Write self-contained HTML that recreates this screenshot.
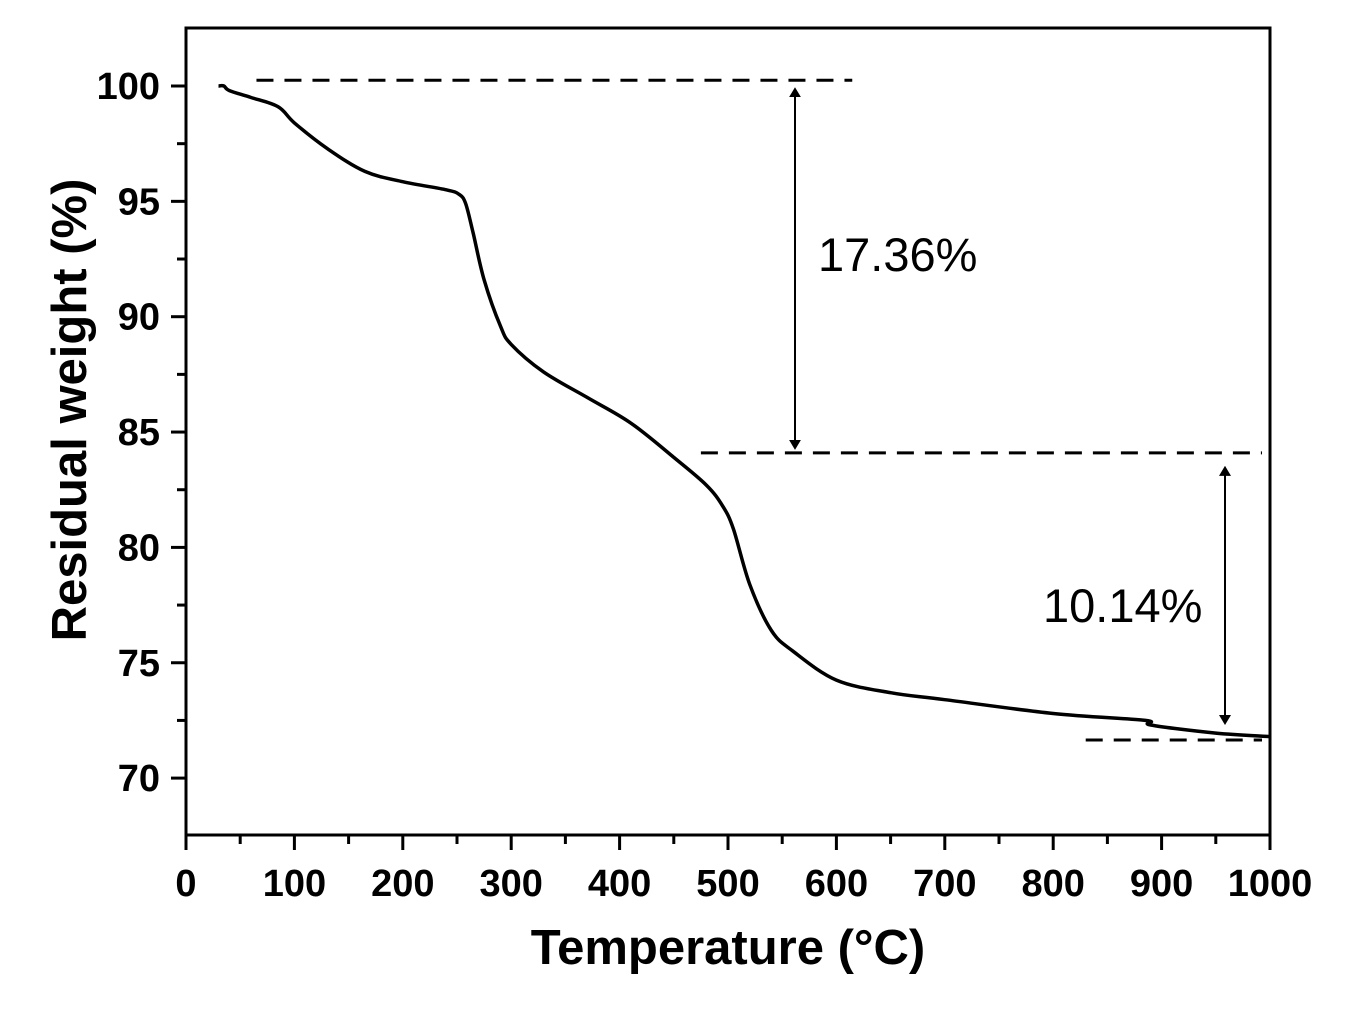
<!DOCTYPE html>
<html><head><meta charset="utf-8"><style>body{margin:0;background:#fff}svg{display:block}</style></head>
<body>
<svg id="c" width="1352" height="1009" xmlns="http://www.w3.org/2000/svg" font-family="Liberation Sans, sans-serif"></svg>
<script>
const temps=[30,35,40,60,85,100,130,165,200,240,252,258,265,275,290,300,330,370,410,450,480,495,505,520,540,560,600,650,700,800,885,890,950,1000];
const weights=[100,100,99.8,99.5,99.1,98.4,97.3,96.3,95.85,95.5,95.3,94.9,93.6,91.6,89.6,88.8,87.6,86.5,85.4,83.9,82.7,81.8,80.8,78.4,76.4,75.5,74.25,73.7,73.4,72.8,72.5,72.3,71.95,71.8];
const xTicks=[0,100,200,300,400,500,600,700,800,900,1000];
const yTicks=[70,75,80,85,90,95,100];
const refLevels=[100.25,84.1,71.65];
const labels=["17.36%","10.14%"];
const NS="http://www.w3.org/2000/svg";
const svg=document.getElementById('c');
const X=v=>186+v*1.084;
const Y=v=>86+(100-v)*23.07;
function el(t,a,p){const e=document.createElementNS(NS,t);for(const k in a)e.setAttribute(k,a[k]);(p||svg).appendChild(e);return e;}
const defs=el('defs',{});
const m=el('marker',{id:'ah',markerWidth:10,markerHeight:12,refX:5,refY:6,orient:'auto-start-reverse',markerUnits:'userSpaceOnUse'},defs);
el('path',{d:'M0,0 L10,6 L0,12 Z',fill:'#000'},m);
const frame=el('rect',{x:186,y:28,width:1084,height:807,fill:'none',stroke:'#000','stroke-width':3});

xTicks.forEach((t,i)=>{
 const l=el('line',{x1:X(t),x2:X(t),y1:835,y2:850,stroke:'#000','stroke-width':3});
 
 if(i<xTicks.length-1){const h=t+50;const ml=el('line',{x1:X(h),x2:X(h),y1:835,y2:844,stroke:'#000','stroke-width':3});}
 const tx=el('text',{x:X(t),y:896,'text-anchor':'middle','font-size':38,'font-weight':'bold'});tx.textContent=t;
 
});
yTicks.forEach((t,i)=>{
 const l=el('line',{x1:171,x2:186,y1:Y(t),y2:Y(t),stroke:'#000','stroke-width':3});
 
 const tx=el('text',{x:160,y:Y(t)+13,'text-anchor':'end','font-size':38,'font-weight':'bold'});tx.textContent=t;
 
});
for(let v=67.5;v<=102.5;v+=5){if(Y(v)>30&&Y(v)<833){const ml=el('line',{x1:177,x2:186,y1:Y(v),y2:Y(v),stroke:'#000','stroke-width':3});}}
const xt=el('text',{x:728,y:964,'text-anchor':'middle','font-size':49,'font-weight':'bold'});xt.textContent='Temperature (°C)';

const yt=el('text',{x:0,y:0,'text-anchor':'middle','font-size':49,'font-weight':'bold',transform:'translate(86,410) rotate(-90)'});yt.textContent='Residual weight (%)';

const P=temps.map((t,i)=>[X(t),Y(weights[i])]);
let d='M'+P[0][0].toFixed(1)+','+P[0][1].toFixed(1);
for(let i=0;i<P.length-1;i++){const p0=P[Math.max(0,i-1)],p1=P[i],p2=P[i+1],p3=P[Math.min(P.length-1,i+2)];
 const c1=[p1[0]+(p2[0]-p0[0])/6,p1[1]+(p2[1]-p0[1])/6],c2=[p2[0]-(p3[0]-p1[0])/6,p2[1]-(p3[1]-p1[1])/6];
 d+=' C'+c1.map(v=>v.toFixed(1)).join(',')+' '+c2.map(v=>v.toFixed(1)).join(',')+' '+p2.map(v=>v.toFixed(1)).join(',');}
const curve=el('path',{d:d,fill:'none',stroke:'#000','stroke-width':3.5,'stroke-linejoin':'round'});

const spans=[[65,622],[475,1000],[830,1000]];
refLevels.forEach((v,i)=>{
 const l=el('line',{x1:X(spans[i][0]),x2:X(spans[i][1])-8,y1:Y(v),y2:Y(v),stroke:'#000','stroke-width':3,'stroke-dasharray':'17 11'});
 
});
const a1=el('line',{x1:795,x2:795,y1:Y(refLevels[0])+12,y2:Y(refLevels[1])-8,stroke:'#000','stroke-width':2,'marker-start':'url(#ah)','marker-end':'url(#ah)'});

const a2=el('line',{x1:1225,x2:1225,y1:Y(refLevels[1])+18,y2:Y(refLevels[2])-20,stroke:'#000','stroke-width':2,'marker-start':'url(#ah)','marker-end':'url(#ah)'});

const l1=el('text',{x:818,y:271,'font-size':47});l1.textContent=labels[0];

const l2=el('text',{x:1043,y:622,'font-size':47});l2.textContent=labels[1];

</script>
</body></html>
